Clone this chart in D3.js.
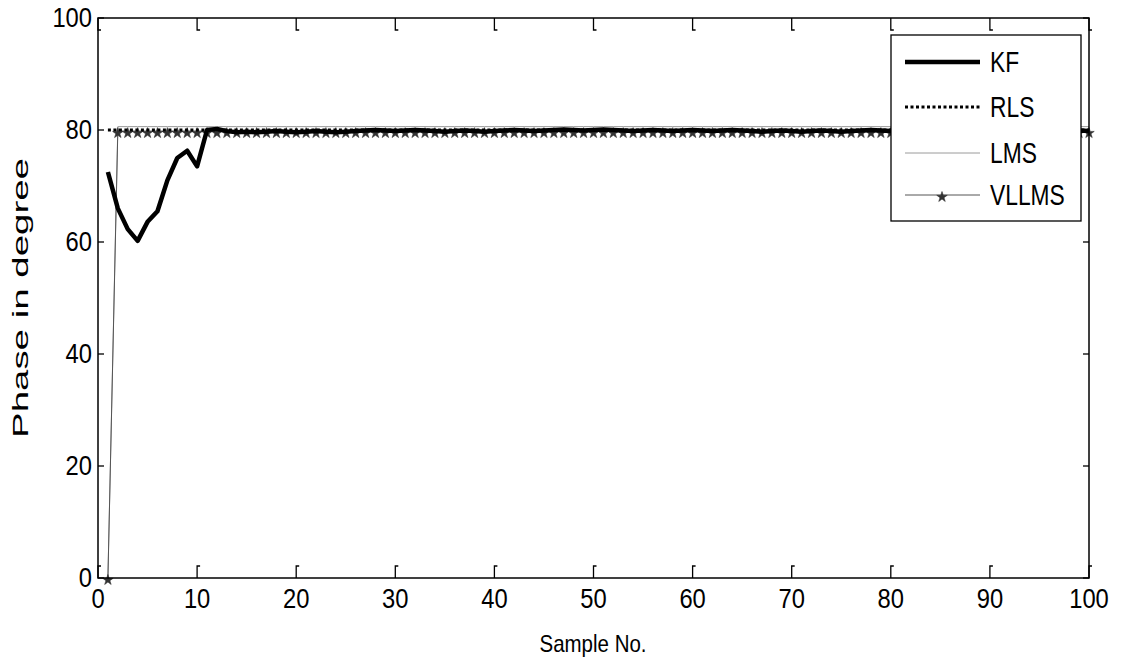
<!DOCTYPE html>
<html><head><meta charset="utf-8">
<script src="https://cdn.jsdelivr.net/npm/d3@7"></script>
<style>body{margin:0;background:#fff}svg{display:block;font-family:"Liberation Sans",Arial,sans-serif}</style>
</head><body><svg id="c" width="1121" height="661"></svg>
<script>
const samples = d3.range(1, 101);
const kf = [72.5,66,62.3,60.2,63.6,65.5,71,75,76.3,73.5,80,80.2,79.8,79.6,79.7,79.6,79.7,79.8,79.7,79.6,
79.7,79.8,79.7,79.6,79.7,79.8,79.9,80,79.9,79.8,79.9,80,79.9,79.8,79.7,79.8,79.9,79.8,79.7,79.8,
79.9,80,79.9,79.8,79.9,80,80.1,80,79.9,80,80.1,80,79.9,79.8,79.9,80,79.9,79.8,79.9,80,
79.9,79.8,79.9,80,79.9,79.8,79.7,79.8,79.9,79.8,79.7,79.8,79.9,79.8,79.7,79.8,79.9,80,79.9,79.8,
79.9,80,79.9,79.8,79.7,79.8,79.9,79.8,79.7,79.8,79.9,79.8,79.7,79.8,79.9,80,79.9,79.8,79.9,79.8];
const rls = [80,80,80,80,80,80,80,80,80,80,80,80,80,80,80,80,80,80,80,80,
80,80,80,80,80,80,80,80,80,80,80,80,80,80,80,80,80,80,80,80,
80,80,80,80,80,80,80,80,80,80,80,80,80,80,80,80,80,80,80,80,
80,80,80,80,80,80,80,80,80,80,80,80,80,80,80,80,80,80,80,80,
80,80,80,80,80,80,80,80,80,80,80,80,80,80,80,80,80,80,80,80];
const lms = [0,80.6,80.6,80.6,80.6,80.6,80.6,80.6,80.6,80.6,80.6,80.6,80.6,80.6,80.6,80.6,80.6,80.6,80.6,80.6,
80.6,80.6,80.6,80.6,80.6,80.6,80.6,80.6,80.6,80.6,80.6,80.6,80.6,80.6,80.6,80.6,80.6,80.6,80.6,80.6,
80.6,80.6,80.6,80.6,80.6,80.6,80.6,80.6,80.6,80.6,80.6,80.6,80.6,80.6,80.6,80.6,80.6,80.6,80.6,80.6,
80.6,80.6,80.6,80.6,80.6,80.6,80.6,80.6,80.6,80.6,80.6,80.6,80.6,80.6,80.6,80.6,80.6,80.6,80.6,80.6,
80.6,80.6,80.6,80.6,80.6,80.6,80.6,80.6,80.6,80.6,80.6,80.6,80.6,80.6,80.6,80.6,80.6,80.6,80.6,80.6];
const vllms = [0,79.8,79.8,79.8,79.8,79.8,79.8,79.8,79.8,79.8,79.8,79.8,79.8,79.8,79.8,79.8,79.8,79.8,79.8,79.8,
79.8,79.8,79.8,79.8,79.8,79.8,79.8,79.8,79.8,79.8,79.8,79.8,79.8,79.8,79.8,79.8,79.8,79.8,79.8,79.8,
79.8,79.8,79.8,79.8,79.8,79.8,79.8,79.8,79.8,79.8,79.8,79.8,79.8,79.8,79.8,79.8,79.8,79.8,79.8,79.8,
79.8,79.8,79.8,79.8,79.8,79.8,79.8,79.8,79.8,79.8,79.8,79.8,79.8,79.8,79.8,79.8,79.8,79.8,79.8,79.8,
79.8,79.8,79.8,79.8,79.8,79.8,79.8,79.8,79.8,79.8,79.8,79.8,79.8,79.8,79.8,79.8,79.8,79.8,79.8,79.8];
const xTicks = [0,10,20,30,40,50,60,70,80,90,100];
const yTicks = [0,20,40,60,80,100];
const seriesNames = ["KF","RLS","LMS","VLLMS"];

const svg = d3.select("#c");
const L = 98, R = 1089, T = 18, B = 578;
const x = d3.scaleLinear().domain([0,100]).range([L,R]);
const y = d3.scaleLinear().domain([0,100]).range([B,T]);

// ticks inward on all sides
const g = svg.append("g");
xTicks.forEach(t => {
  const px = x(t);
  g.append("path").attr("d",`M${px},${B}V${B-12}h3`).attr("stroke","#000").attr("fill","none").attr("stroke-width",1.3);
  g.append("path").attr("d",`M${px},${T}V${T+12}h3`).attr("stroke","#000").attr("fill","none").attr("stroke-width",1.3);
  g.append("text").attr("transform",`translate(${px},608) scale(0.95,1.1)`).attr("text-anchor","middle").attr("font-size",25).text(t);
});
yTicks.forEach(t => {
  const py = y(t);
  g.append("path").attr("d",`M${L},${py}H${L+6}`).attr("stroke","#000").attr("stroke-width",1.3);
  g.append("path").attr("d",`M${R},${py}H${R-6}`).attr("stroke","#000").attr("stroke-width",1.3);
  g.append("text").attr("transform",`translate(92,${py+9}) scale(0.95,1.1)`).attr("text-anchor","end").attr("font-size",25).text(t);
});

const line = d3.line().x((d,i)=>x(samples[i])).y(d=>y(d));
// LMS thin gray
svg.append("path").datum(lms).attr("d",line).attr("fill","none").attr("stroke","#9a9a9a").attr("stroke-width",1);
// VLLMS thin with markers
svg.append("path").datum(vllms).attr("d",line).attr("fill","none").attr("stroke","#555").attr("stroke-width",1);
const star = d3.symbol().type(d3.symbolStar).size(34);
svg.selectAll(".mk").data(vllms).join("path").attr("class","mk")
  .attr("transform",(d,i)=>`translate(${x(samples[i])},${y(d)+2})`)
  .attr("d",star).attr("fill","#333").attr("stroke","#333").attr("stroke-width",0.6);
// RLS dotted
svg.append("path").datum(rls).attr("d",line).attr("fill","none").attr("stroke","#000").attr("stroke-width",3).attr("stroke-dasharray","3,2.5");
// KF thick
svg.append("path").datum(kf).attr("d",line).attr("fill","none").attr("stroke","#000").attr("stroke-width",4.5).attr("stroke-linejoin","round");

// axes box
svg.append("rect").attr("x",L).attr("y",T).attr("width",R-L).attr("height",B-T).attr("fill","none").attr("stroke","#000").attr("stroke-width",1.5);

// legend
const lg = svg.append("g");
lg.append("rect").attr("x",891).attr("y",35).attr("width",190).attr("height",186).attr("fill","#fff").attr("stroke","#000").attr("stroke-width",1.3);
const ly = [62,107,153,195];
const styles = [
  {w:4.5,c:"#000",dash:null},
  {w:3,c:"#000",dash:"3,2.5"},
  {w:1,c:"#9a9a9a",dash:null},
  {w:1,c:"#555",dash:null}
];
seriesNames.forEach((n,i)=>{
  const s = styles[i];
  const p = lg.append("line").attr("x1",905).attr("x2",980).attr("y1",ly[i]).attr("y2",ly[i])
    .attr("stroke",s.c).attr("stroke-width",s.w);
  if (s.dash) p.attr("stroke-dasharray",s.dash);
  lg.append("text").attr("transform",`translate(990,${ly[i]+10}) scale(0.95,1.2)`).attr("font-size",24).text(n);
});
lg.append("path").attr("transform",`translate(942,${ly[3]+2})`).attr("d",star).attr("fill","#333").attr("stroke","#333").attr("stroke-width",0.6);

// axis labels
svg.append("text").attr("transform","translate(593,652) scale(1,1.2)").attr("text-anchor","middle").attr("font-size",20.5).text("Sample No.");
svg.append("text").attr("transform","translate(28,298) rotate(-90)").attr("text-anchor","middle").attr("font-size",22)
  .attr("textLength",280).attr("lengthAdjust","spacingAndGlyphs").text("Phase in degree");
</script></body></html>
